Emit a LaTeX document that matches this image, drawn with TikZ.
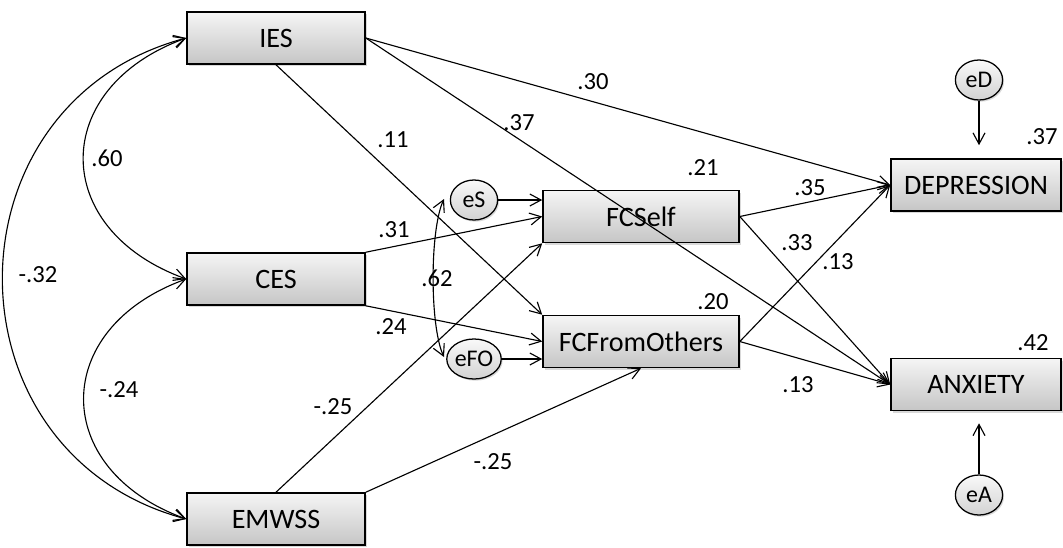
\documentclass[tikz,border=0pt]{standalone}
\usepackage{fontspec}
\setmainfont{Carlito}
\usetikzlibrary{positioning,arrows.meta,shadows,shapes.geometric}

\tikzset{
  obs/.style={draw, line width=1.1pt, minimum width=4.45cm, minimum height=1.3cm,
    top color=gray!8, bottom color=gray!45,
    drop shadow={shadow xshift=1.2pt, shadow yshift=-1.5pt, opacity=0.3},
    font=\fontsize{20}{21}\selectfont},
  err/.style={draw, ellipse, line width=0.9pt, inner sep=0pt,
    minimum width=1.18cm, minimum height=1.0cm,
    top color=gray!5, bottom color=gray!35,
    drop shadow={shadow xshift=1pt, shadow yshift=-1.2pt, opacity=0.3},
    font=\fontsize{17}{18}\selectfont},
  coef/.style={font=\fontsize{17.5}{18}\selectfont},
  path/.style={->, line width=0.8pt},
  cov/.style={<->, line width=0.8pt}
}

\begin{document}
\begin{tikzpicture}[x=0.025cm, y=-0.025cm, >={Straight Barb[length=2.8mm,width=3mm]}]
 \useasboundingbox (0,0) rectangle (1063,547);

 % observed variables
 \node[obs] (IES) at (276,38) {IES};
 \node[obs] (CES) at (276,279) {CES};
 \node[obs] (EMWSS) at (276,519) {EMWSS};
 \node[obs, minimum width=4.9cm] (FCSelf) at (641,216.5) {FCSelf};
 \node[obs, minimum width=4.9cm] (FCFromOthers) at (641,341.5) {FCFromOthers};
 \node[obs, minimum width=4.25cm] (DEPRESSION) at (976,185) {DEPRESSION};
 \node[obs, minimum width=4.25cm] (ANXIETY) at (976,384.5) {ANXIETY};

 % residuals
 \node[err] (eD) at (979,80) {eD};
 \node[err] (eA) at (979,495) {eA};
 \node[err] (eS) at (474,200) {eS};
 \node[err] (eFO) at (474,359) {eFO};
 \coordinate (cS) at (444,199);
 \coordinate (cFO) at (444,357);

 % covariances between predictors
 \draw[cov] (IES.west) to[out=200,in=160,looseness=1.55] (CES.west);
 \draw[cov] (CES.west) to[out=200,in=160,looseness=1.55] (EMWSS.west);
 \draw[cov] (IES.west) to[out=195,in=165,looseness=1.35] (EMWSS.west);
 \draw[cov] (cS) to[out=245,in=115,looseness=0.55] (cFO);

 % paths
 \draw[path] (IES.east) -- (DEPRESSION.west);
 \draw[path] (IES.east) -- (ANXIETY.west);
 \draw[path] (IES.south) -- (FCFromOthers.north west);
 \draw[path] (CES.north east) -- (FCSelf.west);
 \draw[path] (CES.south east) -- (FCFromOthers.west);
 \draw[path] (EMWSS.north) -- (FCSelf.south west);
 \draw[path] (EMWSS.north east) -- (FCFromOthers.south);
 \draw[path] (FCSelf.east) -- (DEPRESSION.west);
 \draw[path] (FCSelf.east) -- (ANXIETY.west);
 \draw[path] (FCFromOthers.east) -- (DEPRESSION.west);
 \draw[path] (FCFromOthers.east) -- (ANXIETY.west);
 \draw[path] (eS) -- (eS -| FCSelf.west);
 \draw[path] (eFO) -- (eFO -| FCFromOthers.west);
 \draw[path, shorten >=13*0.025cm] (eD) -- (eD |- DEPRESSION.north);
 \draw[path, shorten >=12*0.025cm] (eA) -- (eA |- ANXIETY.south);

 % coefficients
 \node[coef] (k60) at (107,158) {.60};
 \node[coef] (k32) at (38,275) {-.32};
 \node[coef] (k24a) at (119,390) {-.24};
 \node[coef] (k62) at (437,278) {.62};
 \node[coef] (k30) at (593,82) {.30};
 \node[coef] (k37a) at (519,123) {.37};
 \node[coef] (k11) at (393,140) {.11};
 \node[coef] (k31) at (394,230) {.31};
 \node[coef] (k24) at (391,327) {.24};
 \node[coef] (k25a) at (333,407) {-.25};
 \node[coef] (k25b) at (493,462) {-.25};
 \node[coef] (k35) at (810,188) {.35};
 \node[coef] (k33) at (797,243) {.33};
 \node[coef] (k13a) at (838,262) {.13};
 \node[coef] (k13b) at (798,385) {.13};
 \node[coef] (r21) at (703,168) {.21};
 \node[coef] (r20) at (713,302) {.20};
 \node[coef] (r37) at (1042,137) {.37};
 \node[coef] (r42) at (1033,343) {.42};
\end{tikzpicture}
\end{document}
